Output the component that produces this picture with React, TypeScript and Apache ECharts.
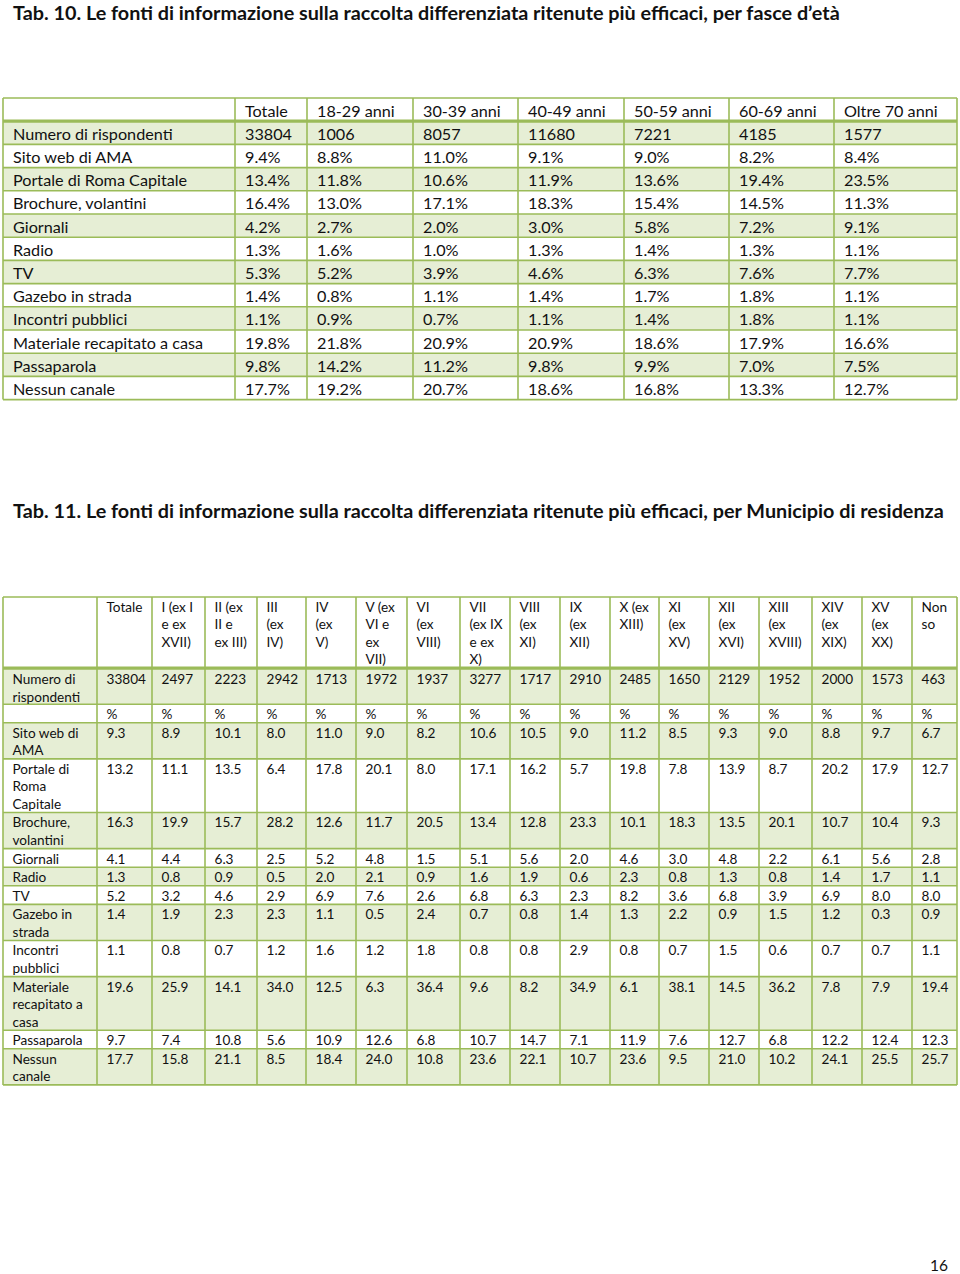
import React, { useEffect, useRef } from "react";
import * as echarts from "echarts";

// ---------- DATA: Tab. 10 ----------
const title10 =
  "Tab. 10. Le fonti di informazione sulla raccolta differenziata ritenute più efficaci, per fasce d’età";
const ageGroups = ["Totale", "18-29 anni", "30-39 anni", "40-49 anni", "50-59 anni", "60-69 anni", "Oltre 70 anni"];
const respondentsByAge = [33804, 1006, 8057, 11680, 7221, 4185, 1577];
const sourcesAge = [
  "Sito web di AMA",
  "Portale di Roma Capitale",
  "Brochure, volantini",
  "Giornali",
  "Radio",
  "TV",
  "Gazebo in strada",
  "Incontri pubblici",
  "Materiale recapitato a casa",
  "Passaparola",
  "Nessun canale",
];
const ageSito = [9.4, 8.8, 11.0, 9.1, 9.0, 8.2, 8.4];
const agePortale = [13.4, 11.8, 10.6, 11.9, 13.6, 19.4, 23.5];
const ageBrochure = [16.4, 13.0, 17.1, 18.3, 15.4, 14.5, 11.3];
const ageGiornali = [4.2, 2.7, 2.0, 3.0, 5.8, 7.2, 9.1];
const ageRadio = [1.3, 1.6, 1.0, 1.3, 1.4, 1.3, 1.1];
const ageTV = [5.3, 5.2, 3.9, 4.6, 6.3, 7.6, 7.7];
const ageGazebo = [1.4, 0.8, 1.1, 1.4, 1.7, 1.8, 1.1];
const ageIncontri = [1.1, 0.9, 0.7, 1.1, 1.4, 1.8, 1.1];
const ageMateriale = [19.8, 21.8, 20.9, 20.9, 18.6, 17.9, 16.6];
const agePassaparola = [9.8, 14.2, 11.2, 9.8, 9.9, 7.0, 7.5];
const ageNessun = [17.7, 19.2, 20.7, 18.6, 16.8, 13.3, 12.7];

// ---------- DATA: Tab. 11 ----------
const title11 =
  "Tab. 11. Le fonti di informazione sulla raccolta differenziata ritenute più efficaci, per Municipio di residenza";
const municipi = [
  "Totale",
  "I (ex I\ne ex\nXVII)",
  "II (ex\nII e\nex III)",
  "III\n(ex\nIV)",
  "IV\n(ex\nV)",
  "V (ex\nVI e\nex\nVII)",
  "VI\n(ex\nVIII)",
  "VII\n(ex IX\ne ex\nX)",
  "VIII\n(ex\nXI)",
  "IX\n(ex\nXII)",
  "X (ex\nXIII)",
  "XI\n(ex\nXV)",
  "XII\n(ex\nXVI)",
  "XIII\n(ex\nXVIII)",
  "XIV\n(ex\nXIX)",
  "XV\n(ex\nXX)",
  "Non\nso",
];
const respondentsByMunicipio = [33804, 2497, 2223, 2942, 1713, 1972, 1937, 3277, 1717, 2910, 2485, 1650, 2129, 1952, 2000, 1573, 463];
const sourcesMunicipio = [
  "Sito web di\nAMA",
  "Portale di\nRoma\nCapitale",
  "Brochure,\nvolantini",
  "Giornali",
  "Radio",
  "TV",
  "Gazebo in\nstrada",
  "Incontri\npubblici",
  "Materiale\nrecapitato a\ncasa",
  "Passaparola",
  "Nessun\ncanale",
];
const munSito = [9.3, 8.9, 10.1, 8.0, 11.0, 9.0, 8.2, 10.6, 10.5, 9.0, 11.2, 8.5, 9.3, 9.0, 8.8, 9.7, 6.7];
const munPortale = [13.2, 11.1, 13.5, 6.4, 17.8, 20.1, 8.0, 17.1, 16.2, 5.7, 19.8, 7.8, 13.9, 8.7, 20.2, 17.9, 12.7];
const munBrochure = [16.3, 19.9, 15.7, 28.2, 12.6, 11.7, 20.5, 13.4, 12.8, 23.3, 10.1, 18.3, 13.5, 20.1, 10.7, 10.4, 9.3];
const munGiornali = [4.1, 4.4, 6.3, 2.5, 5.2, 4.8, 1.5, 5.1, 5.6, 2.0, 4.6, 3.0, 4.8, 2.2, 6.1, 5.6, 2.8];
const munRadio = [1.3, 0.8, 0.9, 0.5, 2.0, 2.1, 0.9, 1.6, 1.9, 0.6, 2.3, 0.8, 1.3, 0.8, 1.4, 1.7, 1.1];
const munTV = [5.2, 3.2, 4.6, 2.9, 6.9, 7.6, 2.6, 6.8, 6.3, 2.3, 8.2, 3.6, 6.8, 3.9, 6.9, 8.0, 8.0];
const munGazebo = [1.4, 1.9, 2.3, 2.3, 1.1, 0.5, 2.4, 0.7, 0.8, 1.4, 1.3, 2.2, 0.9, 1.5, 1.2, 0.3, 0.9];
const munIncontri = [1.1, 0.8, 0.7, 1.2, 1.6, 1.2, 1.8, 0.8, 0.8, 2.9, 0.8, 0.7, 1.5, 0.6, 0.7, 0.7, 1.1];
const munMateriale = [19.6, 25.9, 14.1, 34.0, 12.5, 6.3, 36.4, 9.6, 8.2, 34.9, 6.1, 38.1, 14.5, 36.2, 7.8, 7.9, 19.4];
const munPassaparola = [9.7, 7.4, 10.8, 5.6, 10.9, 12.6, 6.8, 10.7, 14.7, 7.1, 11.9, 7.6, 12.7, 6.8, 12.2, 12.4, 12.3];
const munNessun = [17.7, 15.8, 21.1, 8.5, 18.4, 24.0, 10.8, 23.6, 22.1, 10.7, 23.6, 9.5, 21.0, 10.2, 24.1, 25.5, 25.7];
const pageNumber = "16";

// ---------- LAYOUT / STYLE ----------
const FONT = "Lato, 'Open Sans', sans-serif";
const BORDER = "#9bbb59";
const BAND = "#e6eed5";
const INK = "#111111";

const t1Cols = [3, 235, 307, 413, 518, 624, 729, 834, 957];
const t1Top = 98;
const t1RowH = 23.2;

const t2Cols = [3, 97, 152, 205, 257, 306, 356, 407, 460, 510, 560, 610, 659, 709, 759, 812, 862, 912, 957];
const t2Top = 597;
const t2LineH = 17.5;

function buildGraphics() {
  const els: any[] = [];
  const text = (x: number, y: number, s: string, size: number, extra: any = {}) =>
    els.push({
      type: "text",
      x,
      y,
      silent: true,
      style: { text: s, fill: INK, font: `${size}px ${FONT}`, textVerticalAlign: "middle", ...extra },
    });

  // Titles
  text(13, 11.5, title10, 19, { font: `bold 19.8px ${FONT}` });
  text(13, 510, title11, 19, { font: `bold 19.8px ${FONT}` });
  text(948, 1265, pageNumber, 15.5, { textAlign: "right" });

  // ----- Table 10 -----
  const pct = (v: number) => v.toFixed(1) + "%";
  const rows1: string[][] = [
    ["", ...ageGroups],
    ["Numero di rispondenti", ...respondentsByAge.map(String)],
    ...[ageSito, agePortale, ageBrochure, ageGiornali, ageRadio, ageTV, ageGazebo, ageIncontri, ageMateriale, agePassaparola, ageNessun].map(
      (arr, i) => [sourcesAge[i], ...arr.map(pct)]
    ),
  ];
  const t1Left = t1Cols[0];
  const t1Right = t1Cols[t1Cols.length - 1];
  rows1.forEach((row, r) => {
    const y0 = t1Top + r * t1RowH;
    if (r % 2 === 1) {
      els.push({ type: "rect", shape: { x: t1Left, y: y0, width: t1Right - t1Left, height: t1RowH }, style: { fill: BAND }, silent: true });
    }
  });
  const t1Bottom = t1Top + rows1.length * t1RowH;
  for (let r = 0; r <= rows1.length; r++) {
    const y = t1Top + r * t1RowH;
    els.push({
      type: "line",
      shape: { x1: t1Left, y1: y, x2: t1Right, y2: y },
      style: { stroke: BORDER, lineWidth: r === 1 ? 3.2 : 1.6 },
      silent: true,
    });
  }
  t1Cols.forEach((x) =>
    els.push({ type: "line", shape: { x1: x, y1: t1Top, x2: x, y2: t1Bottom }, style: { stroke: BORDER, lineWidth: 1.6 }, silent: true })
  );
  rows1.forEach((row, r) => {
    const yc = t1Top + r * t1RowH + t1RowH / 2 + 0.5;
    row.forEach((s, c) => {
      if (s) text(t1Cols[c] + 10, yc, s, 16.2);
    });
  });

  // ----- Table 11 -----
  const rows2: string[][] = [
    ["", ...municipi],
    ["Numero di\nrispondenti", ...respondentsByMunicipio.map(String)],
    ["", ...municipi.map(() => "%")],
    ...[munSito, munPortale, munBrochure, munGiornali, munRadio, munTV, munGazebo, munIncontri, munMateriale, munPassaparola, munNessun].map(
      (arr, i) => [sourcesMunicipio[i], ...arr.map((v) => v.toFixed(1))]
    ),
  ];
  const t2Left = t2Cols[0];
  const t2Right = t2Cols[t2Cols.length - 1];
  const rowTops: number[] = [];
  let y = t2Top;
  rows2.forEach((row) => {
    const lines = Math.max(...row.map((s) => s.split("\n").length));
    rowTops.push(y);
    y += lines * t2LineH + 1.1;
  });
  rowTops.push(y);
  const t2Bottom = y;
  rows2.forEach((row, r) => {
    if (r % 2 === 1) {
      els.push({
        type: "rect",
        shape: { x: t2Left, y: rowTops[r], width: t2Right - t2Left, height: rowTops[r + 1] - rowTops[r] },
        style: { fill: BAND },
        silent: true,
      });
    }
  });
  rowTops.forEach((yy, r) =>
    els.push({
      type: "line",
      shape: { x1: t2Left, y1: yy, x2: t2Right, y2: yy },
      style: { stroke: BORDER, lineWidth: r === 1 ? 3.2 : 1.6 },
      silent: true,
    })
  );
  t2Cols.forEach((x) =>
    els.push({ type: "line", shape: { x1: x, y1: t2Top, x2: x, y2: t2Bottom }, style: { stroke: BORDER, lineWidth: 1.6 }, silent: true })
  );
  rows2.forEach((row, r) => {
    const top = rowTops[r] + (r === 1 ? 2.5 : 1.2);
    row.forEach((s, c) => {
      if (s)
        els.push({
          type: "text",
          x: t2Cols[c] + 9.5,
          y: top,
          silent: true,
          style: { text: s, fill: INK, font: `13.6px ${FONT}`, lineHeight: t2LineH, textVerticalAlign: "top" },
        });
    });
  });
  return els;
}

export default function App() {
  const ref = useRef<HTMLDivElement>(null);
  useEffect(() => {
    if (!ref.current) return;
    const chart = echarts.init(ref.current, undefined, { renderer: "svg" });
    chart.setOption({
      animation: false,
      backgroundColor: "#ffffff",
      graphic: { elements: buildGraphics() },
    });
    return () => chart.dispose();
  }, []);
  return (
    <div
      ref={ref}
      style={{ position: "absolute", left: 0, top: 0, width: 960, height: 1274, background: "#fff" }}
    />
  );
}
